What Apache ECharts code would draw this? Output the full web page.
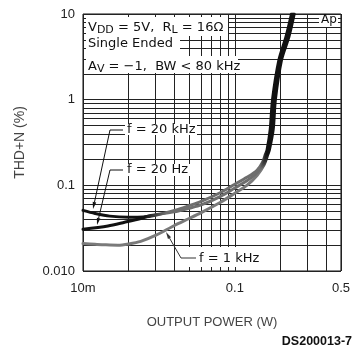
<!DOCTYPE html>
<html>
<head>
<meta charset="utf-8">
<script src="https://cdn.jsdelivr.net/npm/echarts@6/dist/echarts.min.js"></script>
<style>
  html, body { margin: 0; padding: 0; background: #fff; }
  #chart { width: 353px; height: 352px; }
</style>
</head>
<body>
<div id="chart"></div>
<script>
// THD+N (%) against output power (W), one pair of arrays per test frequency
const power20kHz = [0.01, 0.012, 0.015, 0.02, 0.025, 0.03, 0.04, 0.05, 0.06, 0.08, 0.1, 0.12, 0.14, 0.152,
                    0.159, 0.163, 0.171, 0.177, 0.195, 0.217, 0.236];
const thd20kHz   = [0.051, 0.047, 0.0437, 0.0425, 0.0428, 0.0448, 0.051, 0.058, 0.065, 0.082, 0.103, 0.124, 0.15, 0.185,
                    0.23, 0.26, 0.45, 1.0, 2.9, 5.4, 10];

const power20Hz = [0.01, 0.0146, 0.0188, 0.0243, 0.028, 0.04, 0.05, 0.06, 0.08, 0.1, 0.12, 0.14, 0.154,
                   0.162, 0.166, 0.175, 0.181, 0.199, 0.222, 0.241];
const thd20Hz   = [0.0307, 0.0336, 0.0371, 0.0413, 0.0445, 0.049, 0.054, 0.059, 0.074, 0.093, 0.113, 0.14, 0.18,
                   0.23, 0.26, 0.45, 1.0, 2.9, 5.4, 10];

const power1kHz = [0.01, 0.012, 0.014, 0.017, 0.02, 0.024, 0.03, 0.04, 0.05, 0.06, 0.08, 0.1, 0.12, 0.14, 0.156,
                   0.165, 0.169, 0.179, 0.185, 0.203, 0.227, 0.246];
const thd1kHz   = [0.0209, 0.0205, 0.0202, 0.02, 0.0207, 0.0222, 0.026, 0.034, 0.041, 0.048, 0.063, 0.081, 0.1, 0.13, 0.175,
                   0.23, 0.26, 0.45, 1.0, 2.9, 5.4, 10];

// log grid lines and labelled ticks
const xGridValues = [0.01, 0.02, 0.03, 0.04, 0.05, 0.06, 0.07, 0.08, 0.09, 0.1, 0.2, 0.3, 0.4, 0.5];
const yGridValues = [0.01, 0.02, 0.03, 0.04, 0.05, 0.06, 0.07, 0.08, 0.09,
                     0.1, 0.2, 0.3, 0.4, 0.5, 0.6, 0.7, 0.8, 0.9,
                     1, 2, 3, 4, 5, 6, 7, 8, 9, 10];
const xLabelValues = [0.01, 0.1, 0.5];
const xTickLabels  = ['10m', '0.1', '0.5'];
const yLabelValues = [0.01, 0.1, 1, 10];
const yTickLabels  = ['0.010', '0.1', '1', '10'];

function pairs(xs, ys) { return xs.map((x, i) => [x, ys[i]]); }
function tickText(values, texts) {
  return v => {
    const i = values.findIndex(t => Math.abs(Math.log10(t) - Math.log10(v)) < 1e-6);
    return i >= 0 ? texts[i] : '';
  };
}

const chart = echarts.init(document.getElementById('chart'));
const G = echarts.graphic;

function darkGreyDark() {
  return new G.LinearGradient(0, 0, 1, 0, [
    { offset: 0, color: '#111' }, { offset: 0.3, color: '#111' },
    { offset: 0.4, color: '#6e6e6e' }, { offset: 0.84, color: '#6e6e6e' },
    { offset: 0.87, color: '#111' }, { offset: 1, color: '#111' }
  ]);
}
const greyToDark = new G.LinearGradient(0, 0, 1, 0, [
  { offset: 0, color: '#7a7a7a' }, { offset: 0.84, color: '#7a7a7a' },
  { offset: 0.87, color: '#111' }, { offset: 1, color: '#111' }
]);

const textFont = 'DejaVu Sans';
function richSet(size) {
  return {
    m: { fontFamily: textFont, fontSize: size, lineHeight: 14, verticalAlign: 'top', color: '#111' },
    s: { fontFamily: textFont, fontSize: 11, lineHeight: 14, verticalAlign: 'top', color: '#111', padding: [4, 0, 0, 0] }
  };
}
function note(text, left, top, size) {
  size = size || 13;
  return { text, left, top, padding: 0,
    textStyle: { rich: richSet(size), fontFamily: textFont, fontSize: size, fontWeight: 'normal', color: '#111' } };
}

// leader line ending in a narrow filled arrowhead
function leader(points, color) {
  const tip = points[points.length - 1];
  const from = points[points.length - 2];
  const dx = tip[0] - from[0], dy = tip[1] - from[1];
  const len = Math.hypot(dx, dy), ux = dx / len, uy = dy / len;
  const L = 7, W = 1.8;
  const bx = tip[0] - ux * L, by = tip[1] - uy * L;
  return [
    { type: 'polyline', z: 5, shape: { points: points.slice(0, -1).concat([[bx, by]]) },
      style: { stroke: color, lineWidth: 1, fill: null } },
    { type: 'polygon', z: 5, shape: { points: [tip, [bx - uy * W, by + ux * W], [bx + uy * W, by - ux * W]] },
      style: { fill: color } }
  ];
}
function mask(x, y, w, h) {
  return { type: 'rect', z: 1, shape: { x, y, width: w, height: h }, style: { fill: '#fff' } };
}

const axisLabelStyle = { fontFamily: 'Liberation Sans', fontSize: 13, color: '#222' };

chart.setOption({
  animation: false,
  backgroundColor: '#fff',
  grid: { left: 83, top: 14, right: 10, bottom: 81, show: true, borderColor: '#111', borderWidth: 1, backgroundColor: 'transparent' },
  xAxis: {
    type: 'log', logBase: 10, min: 0.01, max: 0.5,
    axisLine: { show: false },
    axisTick: { show: false, customValues: xGridValues },
    axisLabel: Object.assign({ customValues: xLabelValues, formatter: tickText(xLabelValues, xTickLabels), margin: 11 }, axisLabelStyle),
    splitLine: { show: true, lineStyle: { color: '#222', width: 1 } },
    name: 'OUTPUT POWER (W)', nameLocation: 'middle', nameGap: 45,
    nameTextStyle: { fontFamily: 'Liberation Sans', fontSize: 13, color: '#444' }
  },
  yAxis: {
    type: 'log', logBase: 10, min: 0.01, max: 10,
    axisLine: { show: false },
    axisTick: { show: false, customValues: yGridValues },
    axisLabel: Object.assign({ customValues: yLabelValues, formatter: tickText(yLabelValues, yTickLabels), margin: 8 }, axisLabelStyle),
    splitLine: { show: true, lineStyle: { color: '#222', width: 1 } },
    name: 'THD+N (%)', nameLocation: 'middle', nameGap: 56,
    nameTextStyle: { fontFamily: 'Liberation Sans', fontSize: 14, color: '#444' }
  },
  title: [
    note('{m|V}{s|DD}{m| = 5V,  R}{s|L}{m| = 16Ω}', 88, 21),
    note('{m|Single Ended}', 88, 37),
    note('{m|A}{s|V}{m| = −1,  BW < 80 kHz}', 88, 60),
    note('{m|Ap}', 321, 14, 12),
    note('{m|f = 20 kHz}', 127, 123),
    note('{m|f = 20 Hz}', 127, 163),
    note('{m|f = 1 kHz}', 199, 252),
    { text: 'DS200013-7', right: 1, top: 335, padding: 0,
      textStyle: { fontFamily: 'Liberation Sans', fontSize: 12.5, fontWeight: 'bold', color: '#111' } }
  ],
  graphic: {
    elements: [
      mask(86, 17, 142, 19),
      mask(86, 36, 94, 20),
      mask(86, 56, 152, 17),
      mask(319, 15, 19, 12),
      mask(125, 124, 72, 11),
      mask(125, 164, 66, 12),
      mask(184, 247, 80, 20)
    ].concat(
      leader([[123, 130], [110, 130], [93, 209]], '#111'),
      leader([[123, 170], [110, 170], [97, 225]], '#111'),
      leader([[196, 258], [181, 258], [166, 232]], '#333')
    )
  },
  series: [
    { type: 'line', name: 'f = 1 kHz', data: pairs(power1kHz, thd1kHz), symbol: 'none', smooth: 0.3, z: 2,
      lineStyle: { width: 3, color: greyToDark, cap: 'round', join: 'round' } },
    { type: 'line', name: 'f = 20 Hz', data: pairs(power20Hz, thd20Hz), symbol: 'none', smooth: 0.3, z: 3,
      lineStyle: { width: 3, color: darkGreyDark(), cap: 'round', join: 'round' } },
    { type: 'line', name: 'f = 20 kHz', data: pairs(power20kHz, thd20kHz), symbol: 'none', smooth: 0.3, z: 4,
      lineStyle: { width: 3, color: darkGreyDark(), cap: 'round', join: 'round' } }
  ]
});
</script>
</body>
</html>
